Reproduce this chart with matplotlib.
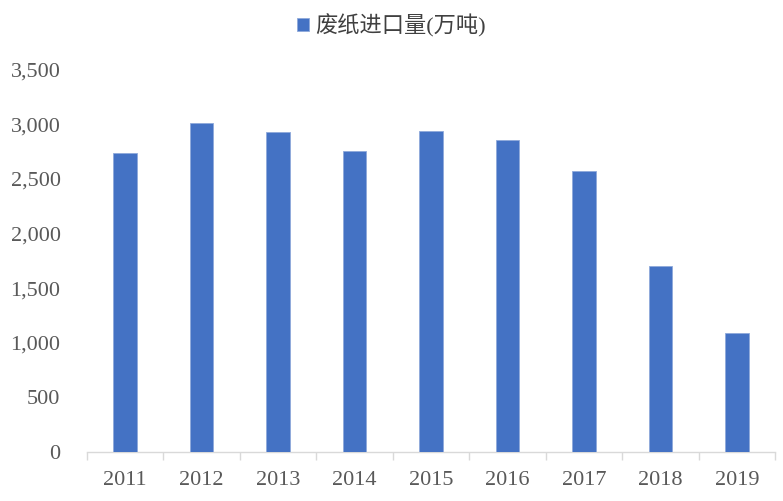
import numpy as np
import matplotlib.pyplot as plt

years = ['2011', '2012', '2013', '2014', '2015', '2016', '2017', '2018', '2019']
imports = [2734, 3009, 2927, 2755, 2936, 2853, 2575, 1700, 1089]
series_label = '废纸进口量(万吨)'
yticks = [0, 500, 1000, 1500, 2000, 2500, 3000, 3500]


def main():
    plt.rcParams['font.family'] = ['Liberation Serif', 'Noto Sans CJK SC']
    fig = plt.figure(figsize=(7.83, 5.01), dpi=100)
    ax = fig.add_axes([0.111, 0.098, 0.879, 0.763])

    x = np.arange(len(years))
    ax.bar(x, imports, width=0.31, color='#4472C4', edgecolor='#8EA9DB',
           linewidth=0.6, label=series_label, zorder=3)

    ax.set_xlim(-0.5, len(years) - 0.5)
    ax.set_ylim(0, 3500)
    ax.set_yticks(yticks)
    ax.set_yticklabels([f'{v:,}' for v in yticks])
    ax.set_xticks(x)
    ax.set_xticklabels(years)
    # category separators on the x axis
    ax.set_xticks(np.arange(len(years) + 1) - 0.5, minor=True)
    ax.tick_params(axis='x', which='major', length=0, pad=14,
                   labelsize=16, labelcolor='#595959')
    ax.tick_params(axis='x', which='minor', length=5.5, width=1.0,
                   color='#D9D9D9', direction='out')
    ax.tick_params(axis='y', length=0, pad=19, labelsize=16,
                   labelcolor='#595959')

    for side in ('top', 'right', 'left'):
        ax.spines[side].set_visible(False)
    ax.spines['bottom'].set_color('#D9D9D9')
    ax.spines['bottom'].set_linewidth(1.0)

    fig.legend(loc='upper center', bbox_to_anchor=(0.5, 1.012), ncol=1,
               frameon=False, fontsize=16, handlelength=0.55,
               handleheight=0.55, handletextpad=0.3,
               labelcolor='#404040')

    fig.savefig('out.png', dpi=100)
    plt.close(fig)


if __name__ == '__main__':
    main()
